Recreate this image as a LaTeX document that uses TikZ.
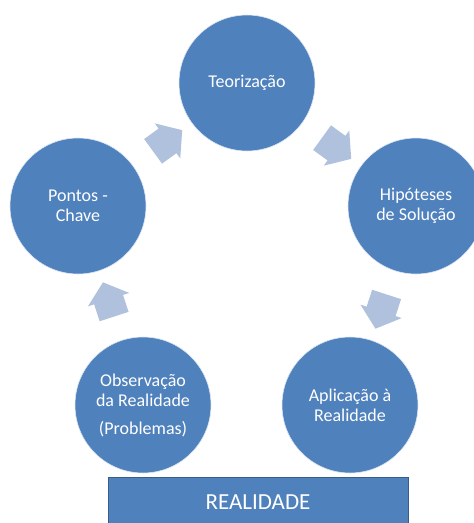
\documentclass[tikz,border=0pt]{standalone}
\usepackage{fontspec}
\setmainfont{Carlito}
\usetikzlibrary{shapes.arrows,calc}
\definecolor{circblue}{RGB}{79,129,189}
\definecolor{arrblue}{RGB}{176,193,221}
\definecolor{boxline}{RGB}{56,93,138}

\begin{document}
\begin{tikzpicture}[x=1pt,y=-1pt,
	every node/.style={font=\fontsize{18}{20}\selectfont, text=white, align=center},
	etapa/.style={circle, fill=circblue, draw=white!80!circblue, line width=0.6pt, minimum size=136pt, inner sep=0pt},
	seta/.style={single arrow, fill=arrblue, inner xsep=0pt, inner ysep=15pt, minimum height=36pt, single arrow head extend=6.5pt, single arrow tip angle=100}]
			\useasboundingbox (0,0) rectangle (474,523);
			
			\node[etapa] (teo) at (247,83){Teorização};
			\node[etapa] (hip) at (416,206){Hipóteses\\de Solução};
			\node[etapa] (apl) at (350,405){Aplicação à\\Realidade};
			\node[etapa] (obs) at (143,405){Observação\\da Realidade\\[8pt](Problemas)};
			\node[etapa] (pc) at (78,206){Pontos -\\Chave};
			
			\node[seta, rotate=36] (s1) at ($(pc)!0.5!(teo)$){};
			\node[seta, rotate=-36] (s2) at ($(teo)!0.5!(hip)$){};
			\node[seta, rotate=-108] (s3) at ($(hip)!0.5!(apl)$){};
			\node[seta, rotate=108] (s4) at ($(obs)!0.5!(pc)$){};
			
			\node[fill=circblue, draw=boxline, line width=1pt, minimum width=300pt, minimum height=50pt, font=\fontsize{23}{27}\selectfont] (real) at (258,502){REALIDADE};
			\end{tikzpicture}
\end{document}
